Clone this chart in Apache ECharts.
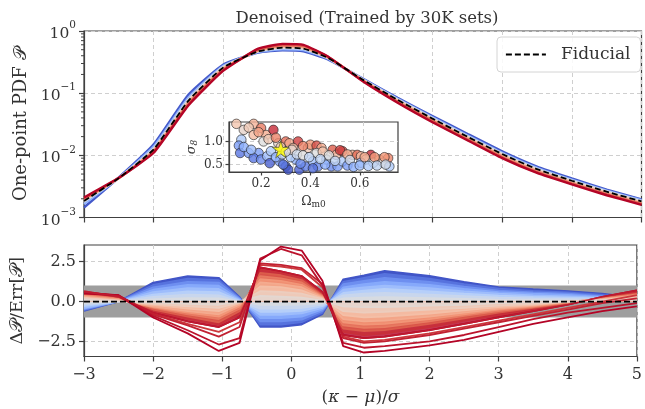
<!DOCTYPE html>
<html><head><meta charset="utf-8">
<script src="https://cdn.jsdelivr.net/npm/echarts@6/dist/echarts.min.js"></script>
<style>html,body{margin:0;padding:0;background:#fff}#c{width:645px;height:409px}</style>
</head><body><div id="c"></div><script>
// ---------- top panel: one-point PDF ----------
const xTop = [-3, -2.5, -2, -1.5, -1, -0.5, -0.15, 0.15, 0.5, 1, 1.5, 2, 2.5, 3, 3.5, 4, 4.5, 5];
const pdfFiducial = [1.85e-3, 4.3e-3, 1.25e-2, 7.6e-2, 0.26, 0.47, 0.54, 0.52, 0.37, 0.165, 0.078, 0.039, 0.02, 0.0105, 6.0e-3, 3.9e-3, 2.6e-3, 1.82e-3];
const pdfBlue1 = [1.45e-3, 4.4e-3, 1.5e-2, 9.5e-2, 0.29, 0.45, 0.49, 0.47, 0.35, 0.172, 0.084, 0.043, 0.0222, 0.0116, 6.6e-3, 4.25e-3, 2.8e-3, 1.95e-3];
const pdfBlue2 = [1.65e-3, 4.35e-3, 1.38e-2, 8.5e-2, 0.275, 0.46, 0.51, 0.495, 0.36, 0.168, 0.081, 0.041, 0.021, 0.011, 6.3e-3, 4.05e-3, 2.7e-3, 1.9e-3];
const pdfGrey = [1.8e-3, 4.3e-3, 1.28e-2, 7.9e-2, 0.265, 0.47, 0.53, 0.515, 0.368, 0.166, 0.079, 0.0395, 0.0202, 0.0106, 6.05e-3, 3.92e-3, 2.62e-3, 1.83e-3];
const pdfRed1 = [1.9e-3, 4.3e-3, 1.22e-2, 7.3e-2, 0.255, 0.48, 0.555, 0.535, 0.372, 0.163, 0.076, 0.0378, 0.0193, 0.0101, 5.8e-3, 3.75e-3, 2.5e-3, 1.75e-3];
const pdfRed2 = [1.95e-3, 4.3e-3, 1.18e-2, 7.0e-2, 0.245, 0.49, 0.575, 0.555, 0.378, 0.16, 0.074, 0.0365, 0.0186, 0.0097, 5.55e-3, 3.6e-3, 2.42e-3, 1.7e-3];
const pdfRed3 = [2.0e-3, 4.3e-3, 1.14e-2, 6.7e-2, 0.238, 0.505, 0.595, 0.575, 0.385, 0.158, 0.072, 0.0355, 0.018, 9.3e-3, 5.35e-3, 3.5e-3, 2.35e-3, 1.65e-3];
const pdfRed4 = [2.1e-3, 4.35e-3, 1.1e-2, 6.4e-2, 0.23, 0.52, 0.62, 0.6, 0.39, 0.155, 0.07, 0.034, 0.0175, 9.0e-3, 5.2e-3, 3.4e-3, 2.28e-3, 1.6e-3];
const pdfLevels = [0.03, 0.25, 0.48, 0.62, 0.75, 0.88, 1.0];

// ---------- bottom panel: residuals ----------
const xBot = [-3, -2.5, -2, -1.5, -1.05, -0.75, -0.45, -0.15, 0.15, 0.45, 0.75, 1.05, 1.35, 2, 2.5, 3, 3.5, 4, 4.5, 5];
const resZero = [0, 0, 0, 0, 0, 0, 0, 0, 0, 0, 0, 0, 0, 0, 0, 0, 0, 0, 0, 0];
const resB1 = [-0.6, 0.0, 1.2, 1.6, 1.5, 0.3, -1.6, -1.6, -1.45, -0.8, 1.4, 1.65, 1.93, 1.62, 1.24, 0.92, 0.78, 0.67, 0.5, 0.25];
const resB2 = [-0.55, 0.0, 1.05, 1.45, 1.35, 0.25, -1.45, -1.45, -1.3, -0.7, 1.25, 1.5, 1.75, 1.45, 1.1, 0.82, 0.68, 0.58, 0.42, 0.2];
const resB3 = [-0.5, 0.0, 0.9, 1.25, 1.2, 0.2, -1.25, -1.25, -1.15, -0.6, 1.1, 1.3, 1.5, 1.25, 0.95, 0.7, 0.58, 0.5, 0.35, 0.15];
const resB4 = [-0.45, 0.0, 0.75, 1.05, 1.0, 0.15, -1.05, -1.05, -0.95, -0.5, 0.9, 1.1, 1.25, 1.05, 0.8, 0.6, 0.5, 0.42, 0.3, 0.1];
const resB5 = [-0.4, 0.0, 0.6, 0.85, 0.8, 0.1, -0.85, -0.85, -0.75, -0.4, 0.75, 0.9, 1.0, 0.85, 0.65, 0.5, 0.4, 0.34, 0.25, 0.1];
const resB6 = [-0.3, 0.0, 0.45, 0.65, 0.6, 0.05, -0.65, -0.65, -0.6, -0.3, 0.55, 0.7, 0.8, 0.65, 0.5, 0.38, 0.3, 0.26, 0.2, 0.05];
const resB7 = [-0.2, 0.0, 0.3, 0.45, 0.4, 0.0, -0.45, -0.45, -0.4, -0.2, 0.4, 0.5, 0.55, 0.45, 0.35, 0.25, 0.2, 0.18, 0.12, 0.05];
const resB8 = [-0.1, 0.0, 0.15, 0.22, 0.2, 0.0, -0.22, -0.22, -0.2, -0.1, 0.2, 0.25, 0.28, 0.22, 0.18, 0.12, 0.1, 0.08, 0.05, 0.0];
const blueLevels = [0.02, 0.09, 0.16, 0.23, 0.3, 0.37, 0.43, 0.48];
const resR9 = [0.1, 0.0, -0.05, -0.15, -0.2, 0.0, 0.35, 0.3, 0.25, 0.05, -0.3, -0.35, -0.35, -0.25, -0.2, -0.1, -0.05, 0.0, 0.05, 0.1];
const resR8 = [0.2, 0.05, -0.15, -0.3, -0.4, -0.05, 0.65, 0.6, 0.5, 0.15, -0.6, -0.7, -0.65, -0.5, -0.4, -0.25, -0.15, 0.0, 0.1, 0.2];
const resR7 = [0.25, 0.05, -0.2, -0.45, -0.6, -0.1, 0.95, 0.9, 0.7, 0.2, -0.85, -1.0, -0.95, -0.75, -0.55, -0.35, -0.2, 0.0, 0.1, 0.3];
const resR6 = [0.3, 0.1, -0.3, -0.6, -0.8, -0.2, 1.2, 1.1, 0.9, 0.25, -1.1, -1.25, -1.2, -0.95, -0.7, -0.45, -0.25, 0.0, 0.15, 0.35];
const resR5 = [0.35, 0.15, -0.35, -0.7, -0.95, -0.3, 1.4, 1.3, 1.05, 0.3, -1.3, -1.45, -1.4, -1.1, -0.8, -0.5, -0.3, -0.05, 0.15, 0.4];
const resR4 = [0.4, 0.2, -0.4, -0.8, -1.1, -0.45, 1.6, 1.45, 1.2, 0.35, -1.5, -1.65, -1.6, -1.25, -0.9, -0.6, -0.35, -0.05, 0.2, 0.45];
const resR3 = [0.45, 0.25, -0.5, -0.95, -1.3, -0.6, 1.8, 1.65, 1.35, 0.4, -1.7, -1.85, -1.8, -1.4, -1.05, -0.7, -0.4, -0.1, 0.2, 0.5];
const resR2 = [0.5, 0.3, -0.6, -1.1, -1.45, -0.8, 2.0, 1.8, 1.5, 0.5, -1.9, -2.1, -2.0, -1.6, -1.2, -0.85, -0.5, -0.15, 0.25, 0.6];
const resR1 = [0.6, 0.35, -0.7, -1.25, -1.6, -1.0, 2.15, 1.9, 1.6, 0.6, -2.1, -2.3, -2.2, -1.8, -1.4, -1.0, -0.6, -0.2, 0.3, 0.7];
const redLevels = [0.53, 0.58, 0.64, 0.7, 0.76, 0.82, 0.88, 0.94, 1.0];
const resO4 = [0.6, 0.3, -0.75, -1.4, -1.9, -1.3, 2.3, 2.2, 2.0, 0.9, -2.2, -2.5, -2.4, -2.0, -1.6, -1.2, -0.8, -0.4, 0.0, 0.4];
const resO3 = [0.65, 0.3, -0.8, -1.5, -2.2, -1.6, 2.4, 2.3, 2.1, 1.1, -2.3, -2.6, -2.5, -2.1, -1.7, -1.3, -0.9, -0.5, -0.1, 0.2];
const resO2 = [0.55, 0.4, -0.9, -1.8, -2.7, -2.3, 2.7, 3.3, 2.9, 1.0, -2.6, -2.9, -2.8, -2.5, -2.1, -1.6, -1.1, -0.7, -0.4, -0.1];
const resO1 = [0.5, 0.4, -1.0, -2.0, -3.1, -2.6, 2.6, 3.45, 3.2, 1.3, -2.8, -3.2, -3.1, -2.75, -2.4, -1.9, -1.4, -1.0, -0.6, -0.3];
const outlierLevels = [0.93, 0.96, 0.98, 1.0];

// ---------- inset: parameter points ----------
const omegaM = [0.10,0.17,0.13,0.15,0.12,0.11,0.115,0.15,0.17,0.20,0.22,0.25,0.21,0.19,0.17,0.20,0.225,0.235,0.24,0.27,0.30,0.315,0.35,0.33,0.275,0.30,0.31,0.34,0.355,0.38,0.39,0.40,0.425,0.445,0.425,0.41,0.43,0.465,0.49,0.505,0.53,0.485,0.51,0.53,0.57,0.59,0.605,0.645,0.625,0.605,0.655,0.68,0.715,0.695,0.72,0.13,0.16,0.19,0.23,0.26,0.26,0.285,0.29,0.32,0.325,0.345,0.36,0.37,0.37,0.395,0.41,0.45,0.46,0.475,0.50,0.52,0.55,0.55,0.56,0.575,0.60,0.62,0.635,0.66,0.67,0.70,0.705,0.28,0.30,0.44];
const sigma8 = [1.38,1.38,1.25,1.30,1.04,0.91,0.75,0.75,1.14,1.29,1.14,1.25,1.00,0.75,0.64,0.61,0.68,0.53,0.79,0.96,1.00,0.96,1.00,0.86,0.57,0.46,0.39,0.61,0.39,0.46,0.86,0.93,0.91,0.86,0.75,0.57,0.46,0.61,0.82,0.71,0.79,0.46,0.46,0.57,0.71,0.71,0.68,0.71,0.61,0.54,0.54,0.61,0.64,0.54,0.46,0.88,0.82,1.20,1.05,0.66,1.08,0.72,0.50,0.66,0.82,0.72,0.52,0.90,0.70,0.66,0.42,0.78,0.50,0.70,0.58,0.81,0.72,0.48,0.60,0.45,0.48,0.66,0.47,0.66,0.48,0.66,0.50,0.88,0.78,0.62];
const colorLevel = [0.62,0.68,0.55,0.60,0.35,0.20,0.10,0.20,0.65,0.82,0.70,0.95,0.50,0.20,0.10,0.15,0.30,0.05,0.35,0.55,0.85,0.70,0.92,0.65,0.20,0.05,0.02,0.25,0.05,0.12,0.60,0.75,0.90,0.70,0.50,0.30,0.15,0.35,0.88,0.65,0.90,0.15,0.20,0.35,0.68,0.85,0.65,0.95,0.50,0.30,0.45,0.70,0.80,0.50,0.35,0.25,0.30,0.72,0.60,0.25,0.80,0.40,0.10,0.35,0.55,0.45,0.15,0.80,0.50,0.40,0.08,0.62,0.25,0.50,0.40,0.92,0.70,0.20,0.45,0.25,0.30,0.70,0.35,0.75,0.40,0.75,0.45,0.60,0.50,0.40];
const fiducialParams = [0.28, 0.83];

// ---------- styling helpers ----------
const FONT = 'DejaVu Serif';
const TXT = '#333333';
const AX = '#404040';
const GRIDC = '#cfcfcf';
const CW = [[0,[59,76,192]],[0.125,[98,130,234]],[0.25,[141,176,254]],[0.375,[184,208,249]],[0.5,[221,221,221]],[0.625,[244,196,173]],[0.75,[244,154,123]],[0.875,[222,96,77]],[1,[180,4,38]]];
function coolwarm(t){
  t = Math.max(0, Math.min(1, t));
  for (let i = 1; i < CW.length; i++) {
    if (t <= CW[i][0]) {
      const a = CW[i-1], b = CW[i], f = (t - a[0]) / (b[0] - a[0]);
      const c = a[1].map((v, k) => Math.round(v + (b[1][k] - v) * f));
      return 'rgb(' + c.join(',') + ')';
    }
  }
  return 'rgb(180,4,38)';
}
const pair = (xs, ys) => xs.map((x, i) => [x, ys[i]]);
const minus = v => (v < 0 ? '\u2212' + Math.abs(v) : '' + v);

const series = [];
// top panel curves
[pdfBlue1, pdfBlue2, pdfGrey, pdfRed1, pdfRed2, pdfRed3, pdfRed4].forEach((arr, i) => {
  series.push({type:'line', xAxisIndex:0, yAxisIndex:0, data: pair(xTop, arr), symbol:'none', silent:true, smooth:0.15,
    lineStyle:{color: coolwarm(pdfLevels[i]), width: 2.4}, z: 3});
});
series.push({name:'Fiducial', type:'line', xAxisIndex:0, yAxisIndex:0, data: pair(xTop, pdfFiducial), symbol:'none', smooth:0.15,
  lineStyle:{color:'#000', width:1.8, type:[6,3]}, itemStyle:{color:'#000'}, z: 10});

// bottom: grey band
series.push({type:'line', xAxisIndex:1, yAxisIndex:1, data: pair(xBot, resZero), symbol:'none', silent:true,
  lineStyle:{width:0, opacity:0}, z:1,
  markArea:{silent:true, itemStyle:{color:'#9e9e9e'}, data:[[{yAxis:-1}, {yAxis:1}]]}});
// blue fan (filled)
[resB1, resB2, resB3, resB4, resB5, resB6, resB7, resB8].forEach((arr, i) => {
  const col = coolwarm(blueLevels[i]);
  series.push({type:'line', xAxisIndex:1, yAxisIndex:1, data: pair(xBot, arr), symbol:'none', silent:true,
    lineStyle:{color: col, width: 1.5}, areaStyle:{color: col, opacity: 1}, z: 3});
});
// red fan (dark outer first, light inner last)
const reds = [resR9, resR8, resR7, resR6, resR5, resR4, resR3, resR2, resR1];
for (let i = reds.length - 1; i >= 0; i--) {
  const col = coolwarm(redLevels[i]);
  series.push({type:'line', xAxisIndex:1, yAxisIndex:1, data: pair(xBot, reds[i]), symbol:'none', silent:true,
    lineStyle:{color: col, width: 1.8}, areaStyle:{color: col, opacity: 0.8}, z: 4});
}
[resO4, resO3, resO2, resO1].forEach((arr, i) => {
  series.push({type:'line', xAxisIndex:1, yAxisIndex:1, data: pair(xBot, arr), symbol:'none', silent:true,
    lineStyle:{color: coolwarm(outlierLevels[i]), width: 1.8}, z: 5});
});
series.push({type:'line', xAxisIndex:1, yAxisIndex:1, data: pair(xBot, resR1), symbol:'none', silent:true,
  lineStyle:{color: coolwarm(0.97), width: 1.6}, z: 5});
series.push({type:'line', xAxisIndex:1, yAxisIndex:1, data: pair(xBot, resZero), symbol:'none', silent:true,
  lineStyle:{color:'#000', width:1.8, type:[6,3]}, z: 10});

// inset scatter
series.push({type:'scatter', xAxisIndex:2, yAxisIndex:2, data: omegaM.map((o, i) => [o, sigma8[i]]), symbolSize: 9.5,
  silent:true, z: 6,
  itemStyle:{color: p => coolwarm(colorLevel[p.dataIndex]), borderColor:'#222', borderWidth:0.8}});
series.push({type:'scatter', xAxisIndex:2, yAxisIndex:2, data: [fiducialParams], symbolSize: 17, silent:true, z: 7,
  symbol:'path://M50,0 L61,35 L98,35 L68,57 L79,91 L50,70 L21,91 L32,57 L2,35 L39,35 Z',
  itemStyle:{color:'#ffff00', borderColor:'#333', borderWidth:0.7}});

const tickLbl = {fontFamily: FONT, color: TXT, fontSize: 15};
const dashed = {show:true, lineStyle:{color: GRIDC, type:[4,3], width:1}};
const axisLine = {show:true, onZero:false, lineStyle:{color: AX, width:1.2}};
const axisTick = {show:true, inside:false, length:5, lineStyle:{color: AX, width:1.2}};
const supRich = {
  b:{fontFamily: FONT, fontSize:15.5, color: TXT, lineHeight:22, verticalAlign:'bottom'},
  s:{fontFamily: FONT, fontSize:10.5, color: TXT, lineHeight:22, verticalAlign:'top'}
};

const option = {
  animation:false,
  backgroundColor:'#fff',
  title:{text:'Denoised (Trained by 30K sets)', left: 362, textAlign:'center', top: 5,
    textStyle:{fontFamily: FONT, fontWeight:'normal', fontSize:16.5, color: TXT}},
  legend:{data:['Fiducial'], left: 497, top: 37, itemWidth: 40, itemHeight: 12,
    padding:[9,10,9,8], backgroundColor:'rgba(255,255,255,0.85)', borderColor:'#d4d4d4', borderWidth:1, borderRadius:4,
    itemStyle:{opacity:0, borderWidth:0},
    lineStyle:{color:'#000', width:1.8, type:[6,3], opacity:1},
    textStyle:{fontFamily: FONT, fontSize:17, color: TXT, padding:[0,0,0,10]}},
  grid:[
    {left:84, right:3.5, top:31, height:186.5, show:true, borderColor: AX, borderWidth:1.2, backgroundColor:'transparent'},
    {left:84, right:3.5, top:245, height:111.5, show:true, borderColor: AX, borderWidth:1.2, backgroundColor:'transparent'},
    {left:229, top:122, width:169, height:50, show:true, borderColor: AX, borderWidth:1.2, backgroundColor:'transparent'}
  ],
  xAxis:[
    {gridIndex:0, type:'value', min:-3, max:5, interval:1, axisLine, axisTick, axisLabel:{show:false}, splitLine: dashed},
    {gridIndex:1, type:'value', min:-3, max:5, interval:1, axisLine, axisTick,
      axisLabel:{...tickLbl, fontSize:16, margin:10, formatter: minus}, splitLine: dashed,
      name:'({i|\u03ba} \u2212 {i|\u03bc})/{i|\u03c3}', nameLocation:'middle', nameGap:33,
      nameTextStyle:{fontFamily: FONT, fontSize:17, color: TXT,
        rich:{i:{fontFamily: FONT, fontSize:17, color: TXT, fontStyle:'italic'}}}},
    {gridIndex:2, type:'value', min:0.07, max:0.755, axisLine, axisTick:{...axisTick, length:3.5, customValues:[0.2,0.4,0.6]},
      axisLabel:{fontFamily: FONT, color: TXT, fontSize:12, margin:6, customValues:[0.2,0.4,0.6], formatter: v => v.toFixed(1)},
      splitLine:{show:false},
      name:'\u03a9{s|m0}', nameLocation:'middle', nameGap:22,
      nameTextStyle:{fontFamily: FONT, fontSize:12.5, color: TXT, rich:{s:{fontFamily: FONT, fontSize:9, color: TXT, padding:[6,0,0,0]}}}}
  ],
  yAxis:[
    {gridIndex:0, type:'log', logBase:10, min:0.001, max:1, axisLine, axisTick, splitLine: dashed,
      axisLabel:{margin:8, formatter: v => '{b|10}{s|' + minus(Math.round(Math.log10(v))) + '}', rich: supRich},
      name:'One-point PDF {c|\ud835\udcab}', nameLocation:'middle', nameGap:53,
      nameTextStyle:{fontFamily: FONT, fontSize:18, color: TXT, rich:{c:{fontSize:18, color: TXT, fontFamily:'DejaVu Sans, serif'}}}},
    {gridIndex:1, type:'value', min:-3.45, max:3.55, axisLine,
      axisTick:{...axisTick, customValues:[-2.5,0,2.5]}, splitLine: dashed,
      axisLabel:{...tickLbl, fontSize:16, margin:8, customValues:[-2.5,0,2.5], formatter: v => (v < 0 ? '\u2212' : '') + Math.abs(v).toFixed(1)},
      name:'\u0394{c|\ud835\udcab}/Err[{c|\ud835\udcab}]', nameLocation:'middle', nameGap:52,
      nameTextStyle:{fontFamily: FONT, fontSize:17.5, color: TXT, rich:{c:{fontSize:17.5, color: TXT, fontFamily:'DejaVu Sans, serif'}}}},
    {gridIndex:2, type:'value', min:0.34, max:1.42, axisLine,
      axisTick:{...axisTick, length:3.5, customValues:[0.5,1.0]},
      axisLabel:{fontFamily: FONT, color: TXT, fontSize:12, margin:6, customValues:[0.5,1.0], formatter: v => v.toFixed(1)},
      splitLine: dashed,
      name:'\u03c3{s|8}', nameLocation:'middle', nameGap:30,
      nameTextStyle:{fontFamily: FONT, fontSize:13, color: TXT, fontStyle:'italic', rich:{s:{fontFamily: FONT, fontSize:9, color: TXT, padding:[6,0,0,0]}}}}
  ],
  series
};
const chart = echarts.init(document.getElementById('c'), null, {renderer:'canvas'});
chart.setOption(option);

// log-axis minor ticks (decoration), positioned through the axis scale
const minor = [];
const x0 = chart.convertToPixel({xAxisIndex:0}, -3);
for (let d = -3; d < 0; d++) {
  for (let k = 2; k <= 9; k++) {
    const y = chart.convertToPixel({yAxisIndex:0}, k * Math.pow(10, d));
    minor.push({type:'line', silent:true, z:20, shape:{x1:x0 - 3, y1:y, x2:x0, y2:y}, style:{stroke: AX, lineWidth:1}});
  }
}
chart.setOption({graphic: minor});
</script></body></html>
